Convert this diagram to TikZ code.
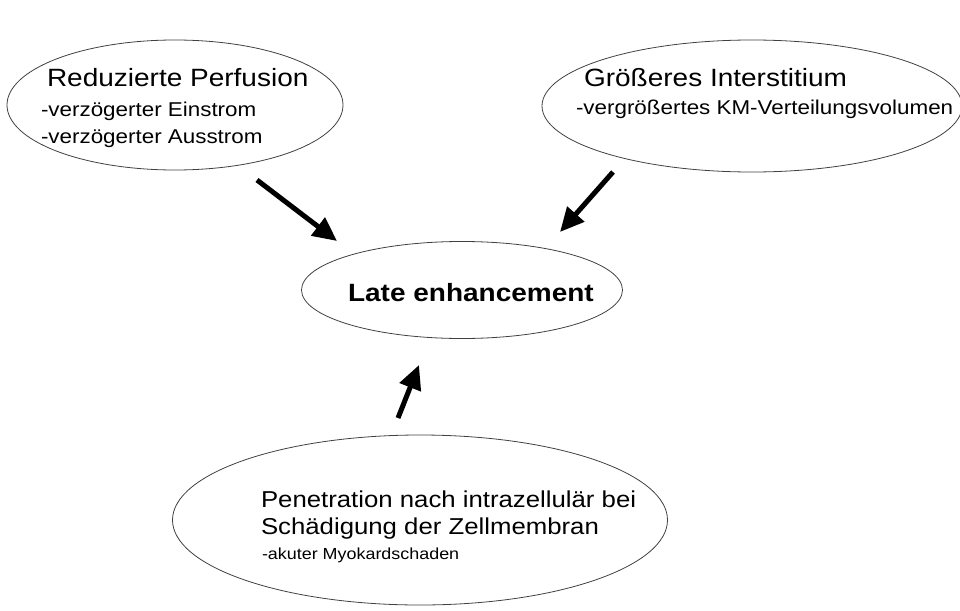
\documentclass[tikz,border=0pt]{standalone}
\usepackage{fontspec}
\setmainfont{Liberation Sans}[FakeStretch=1.12]
\usetikzlibrary{arrows.meta,shapes.geometric}
\tikzset{
  bubble/.style={draw=black!75, line width=0.8pt, ellipse, inner sep=0pt},
  txt/.style={anchor=base west, inner sep=0pt, outer sep=0pt},
  big/.style={txt, font=\fontsize{25}{30}\selectfont},
  small/.style={txt, font=\fontsize{20}{24}\selectfont},
  tiny/.style={txt, font=\fontsize{16}{19}\selectfont},
  bottombig/.style={txt, font=\fontsize{23}{27}\selectfont},
  fatarrow/.style={line width=5pt, -{Triangle[length=24pt,width=22pt]}}
}
\begin{document}
\begin{tikzpicture}[x=1pt,y=-1pt]
\useasboundingbox (0,0) rectangle (960,610);
% ellipses
\node[bubble, minimum width=336pt, minimum height=130pt] (tl) at (175,105) {};
\node[bubble, minimum width=420pt, minimum height=132pt] (tr) at (752,106) {};
\node[bubble, minimum width=321pt, minimum height=97pt] (mid) at (462,290) {};
\node[bubble, minimum width=495pt, minimum height=170pt] (bot) at (420,520) {};
% texts
\node[big] (tlt) at (47,86) {Reduzierte Perfusion};
\node[small] (tls1) at (41,116) {-verzögerter Einstrom};
\node[small] (tls2) at (41,143) {-verzögerter Ausstrom};
\node[big] (trt) at (584,86) {Größeres Interstitium};
\node[small] (trs) at (576,114) {-vergrößertes KM-Verteilungsvolumen};
\node[big, font=\fontsize{25}{30}\selectfont\bfseries] (midt) at (348,301) {Late enhancement};
\node[bottombig] (bt1) at (261,507) {Penetration nach intrazellulär bei};
\node[bottombig] (bt2) at (261,534) {Schädigung der Zellmembran};
\node[tiny] (bt3) at (262,559) {-akuter Myokardschaden};
% arrows
\coordinate (a1s) at (257,180);
\coordinate (a1e) at (337,241);
\coordinate (a2s) at (613,172);
\coordinate (a2e) at (560,232);
\coordinate (a3s) at (398,418);
\coordinate (a3e) at (419,365);
\draw[fatarrow] (a1s) -- (a1e);
\draw[fatarrow] (a2s) -- (a2e);
\draw[fatarrow] (a3s) -- (a3e);
\end{tikzpicture}
\end{document}
